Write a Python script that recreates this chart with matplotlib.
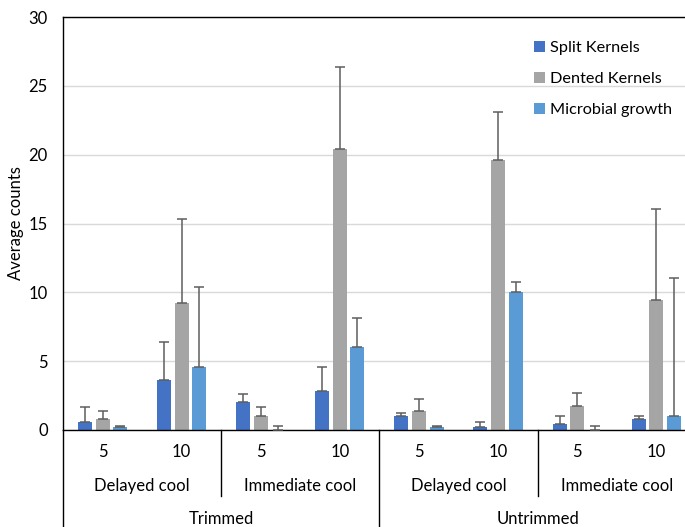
import numpy as np
import matplotlib
matplotlib.use("Agg")
import matplotlib.pyplot as plt
from matplotlib.patches import Patch

plt.rcParams["font.family"] = ["Lato", "DejaVu Sans"]

# data
days = ["5", "10", "5", "10", "5", "10", "5", "10"]
cooling = ["Delayed cool", "Immediate cool", "Delayed cool", "Immediate cool"]
trimming = ["Trimmed", "Untrimmed"]

split = [0.6, 3.6, 2.0, 2.8, 1.0, 0.25, 0.4, 0.8]
split_err = [1.1, 2.8, 0.64, 1.74, 0.22, 0.36, 0.61, 0.24]
dented = [0.8, 9.2, 1.0, 20.4, 1.4, 19.6, 1.75, 9.45]
dented_err = [0.6, 6.1, 0.65, 6.0, 0.83, 3.5, 0.97, 6.6]
microbial = [0.22, 4.6, 0.0, 6.0, 0.22, 10.0, 0.0, 1.04]
microbial_err = [0.08, 5.8, 0.27, 2.1, 0.07, 0.78, 0.27, 10.0]

series = [
    ("Split Kernels", split, split_err, "#4472C4"),
    ("Dented Kernels", dented, dented_err, "#A5A5A5"),
    ("Microbial growth", microbial, microbial_err, "#5B9BD5"),
]

W, H = 685, 527
fig = plt.figure(figsize=(W / 100, H / 100), dpi=100)
# the original image is cropped on the right, so the axes run past the edge
ax = fig.add_axes([63 / W, (H - 430) / H, 632.8 / W, 413 / H])

x = np.arange(len(days))
width = 0.177
offsets = [-0.222, 0.0, 0.222]
for (name, vals, errs, color), off in zip(series, offsets):
    ax.bar(x + off, vals, width, color=color, label=name, zorder=2)
    ax.errorbar(x + off, vals, yerr=[np.zeros(len(errs)), errs], fmt="none",
                ecolor="#5e5e5e", elinewidth=1.1, capsize=3.5, capthick=1.1, zorder=3)

ax.set_xlim(-0.5, len(days) - 0.5)
ax.set_ylim(0, 30)
ax.set_yticks(range(0, 31, 5))
ax.tick_params(axis="y", length=0, pad=11, labelsize=12)
ax.set_xticks([])
ax.yaxis.grid(True, color="#D9D9D9", linewidth=1)
ax.set_axisbelow(True)
for sp in ax.spines.values():
    sp.set_color("black")
    sp.set_linewidth(1)
ax.set_ylabel("Average counts", fontsize=12)
ax.yaxis.set_label_coords(-39 / 632.8, 0.5)

# multi-level category axis
tr = ax.get_xaxis_transform()
px = 1 / 413
for i, d in enumerate(days):
    ax.text(i, -22 * px, d, transform=tr, ha="center", va="center", fontsize=12)
for j, c in enumerate(cooling):
    ax.text(2 * j + 0.5, -56 * px, c, transform=tr, ha="center", va="center", fontsize=12)
for k, t in enumerate(trimming):
    ax.text(4 * k + 1.5, -89 * px, t, transform=tr, ha="center", va="center", fontsize=12)
for b in [1.5, 5.5]:
    ax.plot([b, b], [0, -66 * px], transform=tr, color="black", lw=1, clip_on=False)
for b in [-0.5, 3.5]:
    ax.plot([b, b], [0, -100 * px], transform=tr, color="black", lw=1, clip_on=False)

handles = [Patch(facecolor=c, label=n) for n, _, _, c in series]
ax.legend(handles=handles, loc="upper left", bbox_to_anchor=(534 / W, 1 - 41 / H),
          bbox_transform=fig.transFigure, frameon=False, fontsize=11.7,
          handlelength=0.65, handleheight=0.65, handletextpad=0.35,
          labelspacing=1.04, borderpad=0, borderaxespad=0)

fig.savefig("out.png", dpi=100)
